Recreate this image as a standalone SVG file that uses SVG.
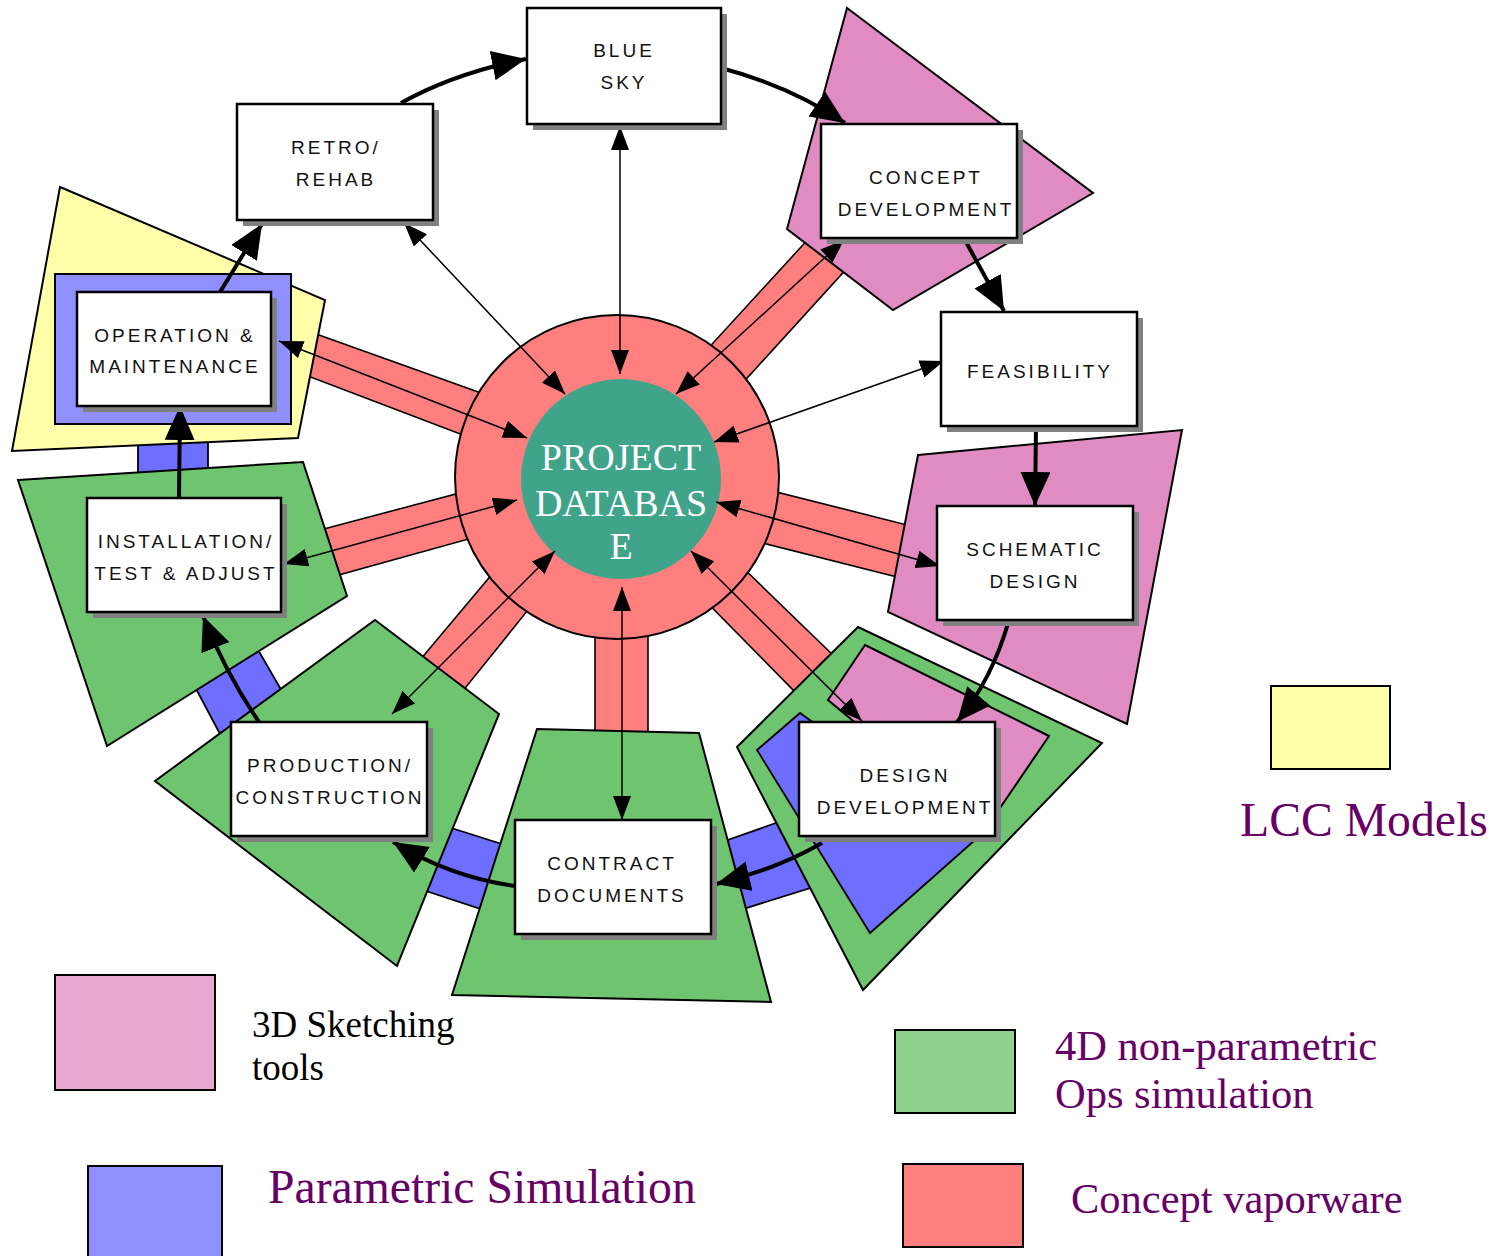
<svg xmlns="http://www.w3.org/2000/svg" width="1494" height="1256" viewBox="0 0 1494 1256">
<defs>
<style>
.strip{fill:#ff7f7f;stroke:#000;stroke-width:1.6}
.pink{fill:#e08cc3;stroke:#000;stroke-width:2}
.green{fill:#6ec46f;stroke:#000;stroke-width:2}
.blue{fill:#6e6eff;stroke:#000;stroke-width:1.8}
.yellow{fill:#ffffaa;stroke:#000;stroke-width:2}
.shadow{fill:#808080}
.box{fill:#fff;stroke:#000;stroke-width:2.5}
.lbl{font-family:"Liberation Sans",Arial,sans-serif;font-size:19px;letter-spacing:3px;text-anchor:middle;fill:#111}
.thin{fill:none;stroke:#000;stroke-width:1.5;marker-start:url(#ah);marker-end:url(#ah)}
.thick{fill:none;stroke:#000;stroke-width:4;marker-end:url(#AH)}
.leg{stroke:#000;stroke-width:2}
.legtxt{font-family:"Liberation Serif","Times New Roman",serif;fill:#660066}
</style>
<marker id="ah" markerUnits="userSpaceOnUse" markerWidth="24" markerHeight="18" viewBox="0 0 24 18" refX="24" refY="9" orient="auto-start-reverse">
<path d="M0,0 L24,9 L0,18 z" fill="#000"/>
</marker>
<marker id="AH" markerUnits="userSpaceOnUse" markerWidth="34" markerHeight="30" viewBox="0 0 34 30" refX="34" refY="15" orient="auto">
<path d="M0,0 L34,15 L0,30 z" fill="#000"/>
</marker>
</defs>
<rect width="1494" height="1256" fill="#fff"/>

<g id="strips">
<polygon class="strip" points="305,330 520,407 505,451 300,373"/>
<polygon class="strip" points="320,530 520,477 530,522 335,576"/>
<polygon class="strip" points="420,660 530,529 565,564 462,692"/>
<rect class="strip" x="595" y="600" width="53" height="135"/>
<polygon class="strip" points="704,530 838,660 800,697 670,565"/>
<polygon class="strip" points="741,483 915,527 905,579 731,535"/>
<polygon class="strip" points="681,378 812,235 850,265 719,409"/>
</g>

<g id="hub">
<circle cx="617" cy="477" r="162" fill="#ff7f7f" stroke="#000" stroke-width="2"/>
<circle cx="621" cy="479" r="100" fill="#3fa48a"/>
<g font-family="'Liberation Serif','Times New Roman',serif" font-size="38" fill="#fff" text-anchor="middle">
<text x="621" y="470">PROJECT</text>
<text x="621" y="516">DATABAS</text>
<text x="621" y="559">E</text>
</g>
</g>

<g id="tool-regions">
<rect class="blue" x="138" y="430" width="70" height="50"/>
<polygon class="blue" points="194,685 257,648 283,693 220,734"/>
<polygon class="blue" points="445,826 505,845 490,912 423,890"/>
<polygon class="blue" points="722,842 790,818 820,885 740,910"/>
<polygon class="yellow" points="60,187 325,300 298,438 12,451"/>
<rect x="55" y="274" width="236" height="150" fill="#8f8fff" stroke="#000" stroke-width="2"/>
<polygon class="green" points="18,480 303,462 347,596 107,746"/>
<polygon class="green" points="375,620 499,714 397,966 155,781"/>
<polygon class="green" points="537,729 699,733 771,1002 452,995"/>
<polygon class="green" points="858,627 1102,743 863,990 737,747"/>
<polygon class="pink" points="865,645 1049,736 985,830 828,700"/>
<polygon class="blue" points="757,750 800,713 975,840 870,933"/>
<polygon class="pink" points="918,455 1182,430 1127,724 888,612"/>
<polygon class="pink" points="847,8 1093,193 893,310 787,229"/>
</g>

<g id="connectors">
<line class="thin" x1="620" y1="126" x2="620" y2="374"/>
<line class="thin" x1="404" y1="223" x2="565" y2="394"/>
<line class="thin" x1="844" y1="240" x2="676" y2="394"/>
<line class="thin" x1="944" y1="361" x2="714" y2="442"/>
<line class="thin" x1="940" y1="566" x2="716" y2="502"/>
<line class="thin" x1="862" y1="721" x2="691" y2="551"/>
<line class="thin" x1="622" y1="587" x2="622" y2="820"/>
<line class="thin" x1="392" y1="714" x2="555" y2="551"/>
<line class="thin" x1="284" y1="564" x2="517" y2="500"/>
<line class="thin" x1="279" y1="341" x2="527" y2="438"/>
<path class="thick" d="M220,292 L262,224"/>
<path class="thick" d="M401,103 Q455,73 526,59"/>
<path class="thick" d="M721,68 Q790,86 845,123"/>
<path class="thick" d="M966,242 L1004,311"/>
<path class="thick" d="M1036,427 L1035,506"/>
<path class="thick" d="M1009,620 Q992,680 957,722"/>
<path class="thick" d="M822,843 Q775,870 716,884"/>
<path class="thick" d="M515,886 Q450,877 393,842"/>
<path class="thick" d="M259,722 Q225,672 203,616"/>
<path class="thick" d="M179,498 L180,406"/>
</g>

<g id="node-bluesky">
<rect class="shadow" x="533" y="14" width="194" height="116"/>
<rect class="box" x="527" y="8" width="194" height="116"/>
<text class="lbl" x="624" y="57">BLUE</text>
<text class="lbl" x="624" y="89">SKY</text>
</g>
<g id="node-retro">
<rect class="shadow" x="243" y="110" width="196" height="116"/>
<rect class="box" x="237" y="104" width="196" height="116"/>
<text class="lbl" x="336" y="154">RETRO/</text>
<text class="lbl" x="336" y="186">REHAB</text>
</g>
<g id="node-concept">
<rect class="shadow" x="827" y="130" width="196" height="114"/>
<rect class="box" x="821" y="124" width="196" height="114"/>
<text class="lbl" x="926" y="184">CONCEPT</text>
<text class="lbl" x="926" y="216">DEVELOPMENT</text>
</g>
<g id="node-feasibility">
<rect class="shadow" x="947" y="318" width="196" height="114"/>
<rect class="box" x="941" y="312" width="196" height="114"/>
<text class="lbl" x="1040" y="378">FEASIBILITY</text>
</g>
<g id="node-schematic">
<rect class="shadow" x="943" y="512" width="196" height="114"/>
<rect class="box" x="937" y="506" width="196" height="114"/>
<text class="lbl" x="1035" y="556">SCHEMATIC</text>
<text class="lbl" x="1035" y="588">DESIGN</text>
</g>
<g id="node-designdev">
<rect class="shadow" x="805" y="728" width="196" height="114"/>
<rect class="box" x="799" y="722" width="196" height="114"/>
<text class="lbl" x="905" y="782">DESIGN</text>
<text class="lbl" x="905" y="814">DEVELOPMENT</text>
</g>
<g id="node-contract">
<rect class="shadow" x="521" y="826" width="196" height="114"/>
<rect class="box" x="515" y="820" width="196" height="114"/>
<text class="lbl" x="612" y="870">CONTRACT</text>
<text class="lbl" x="612" y="902">DOCUMENTS</text>
</g>
<g id="node-production">
<rect class="shadow" x="237" y="728" width="196" height="114"/>
<rect class="box" x="231" y="722" width="196" height="114"/>
<text class="lbl" x="330" y="772">PRODUCTION/</text>
<text class="lbl" x="330" y="804">CONSTRUCTION</text>
</g>
<g id="node-installation">
<rect class="shadow" x="93" y="504" width="194" height="114"/>
<rect class="box" x="87" y="498" width="194" height="114"/>
<text class="lbl" x="186" y="548">INSTALLATION/</text>
<text class="lbl" x="186" y="580">TEST &amp; ADJUST</text>
</g>
<g id="node-om">
<rect class="shadow" x="83" y="298" width="194" height="114"/>
<rect class="box" x="77" y="292" width="194" height="114"/>
<text class="lbl" x="175" y="342">OPERATION &amp;</text>
<text class="lbl" x="175" y="373">MAINTENANCE</text>
</g>

<g id="legend">
<rect class="leg" x="55" y="975" width="160" height="115" fill="#e8a6d0"/>
<text class="legtxt" x="252" y="1037" font-size="37" style="fill:#000">3D Sketching</text>
<text class="legtxt" x="252" y="1080" font-size="37" style="fill:#000">tools</text>
<rect class="leg" x="88" y="1166" width="134" height="95" fill="#8f8fff"/>
<text class="legtxt" x="268" y="1203" font-size="47.7">Parametric Simulation</text>
<rect class="leg" x="1271" y="686" width="119" height="83" fill="#ffffaa"/>
<text class="legtxt" x="1240" y="836" font-size="47.7">LCC Models</text>
<rect class="leg" x="895" y="1030" width="120" height="83" fill="#8fd18f"/>
<text class="legtxt" x="1055" y="1060" font-size="42.5">4D non-parametric</text>
<text class="legtxt" x="1055" y="1108" font-size="42.5">Ops simulation</text>
<rect class="leg" x="903" y="1164" width="120" height="83" fill="#ff7f7f"/>
<text class="legtxt" x="1071" y="1213" font-size="42.5">Concept vaporware</text>
</g>
</svg>
